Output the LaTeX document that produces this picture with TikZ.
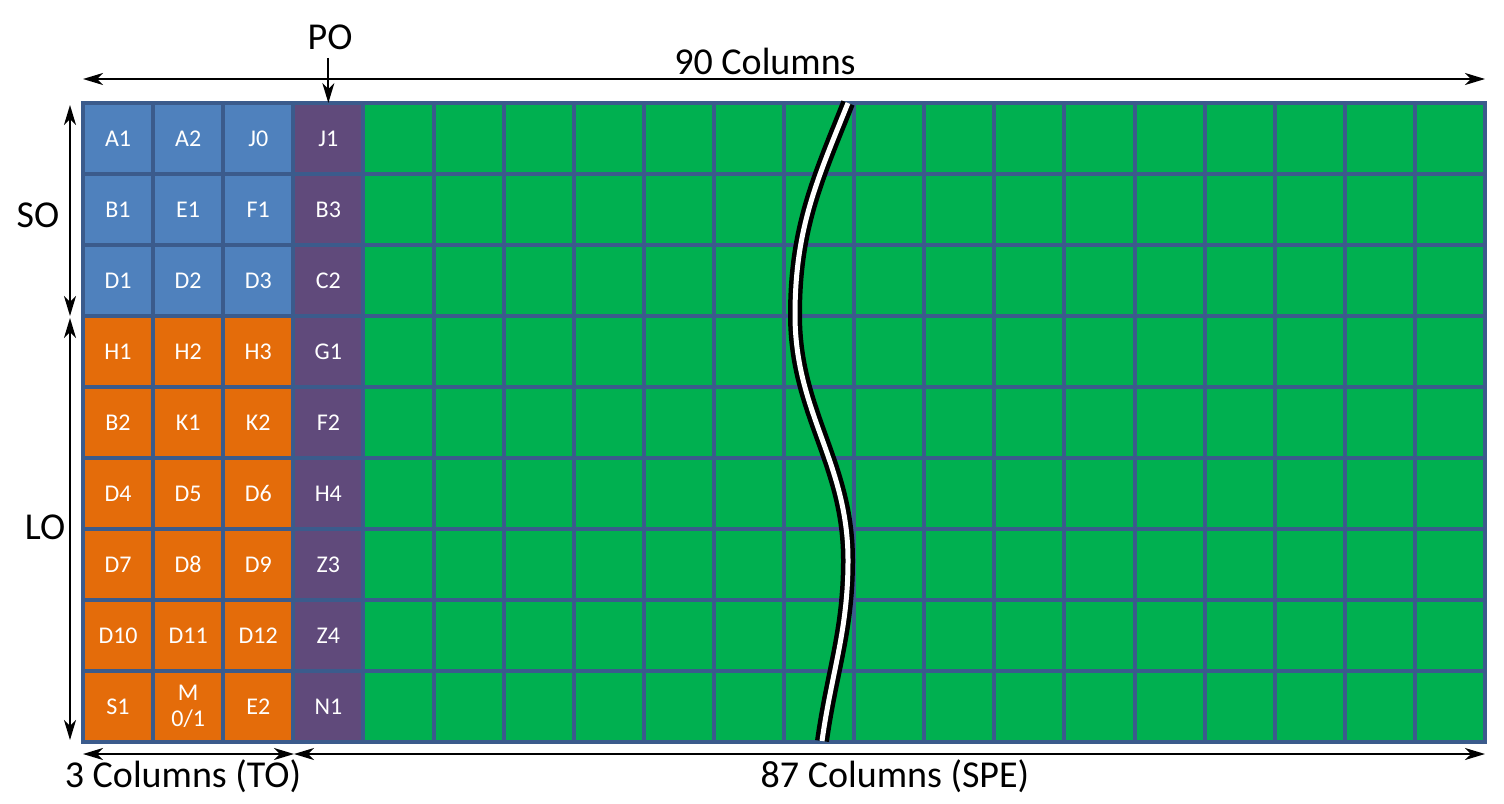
\documentclass[tikz,border=0pt]{standalone}
\usepackage{fontspec}
\setmainfont{Carlito}
\usetikzlibrary{arrows.meta}

\definecolor{toblue}{HTML}{4F81BD}
\definecolor{toorange}{HTML}{E46C0A}
\definecolor{popurple}{HTML}{604A7B}
\definecolor{spegreen}{HTML}{00B050}
\definecolor{gridline}{HTML}{3B5B8C}

\tikzset{
  cell/.style={draw=gridline, line width=2pt, minimum width=35.05pt, minimum height=35.5pt,
               inner sep=0pt, outer sep=0pt, text=white, align=center,
               font=\fontsize{12}{13}\selectfont},
  span/.style={{Stealth[length=10pt,width=6pt,inset=3pt]}-{Stealth[length=10pt,width=6pt,inset=3pt]},
               line width=1pt},
  down/.style={-{Stealth[length=10pt,width=6pt,inset=3pt]}, line width=1pt},
  lbl/.style={font=\fontsize{19}{21}\selectfont, inner sep=0pt}
}

\begin{document}
\begin{tikzpicture}[x=0.5pt, y=-0.5pt]
\useasboundingbox (0,0) rectangle (1504,803); % page size of the reference
% grid of cells
\foreach \r in {1,...,9} {
  \foreach \c in {1,...,20} {
    \ifnum\c>4
      \def\cellcol{spegreen}
    \else\ifnum\c=4
      \def\cellcol{popurple}
    \else\ifnum\r<4
      \def\cellcol{toblue}
    \else
      \def\cellcol{toorange}
    \fi\fi\fi
    \node[cell, fill=\cellcol] (c\r-\c) at ({83+(\c-0.5)*70.1}, {103+(\r-0.5)*71}) {};
  }
}
% labels of the first four columns
\foreach \r/\a/\b/\c/\d in {1/A1/A2/J0/J1, 2/B1/E1/F1/B3, 3/D1/D2/D3/C2,
                            4/H1/H2/H3/G1, 5/B2/K1/K2/F2, 6/D4/D5/D6/H4,
                            7/D7/D8/D9/Z3, 8/D10/D11/D12/Z4, 9/S1/{M\\0/1}/E2/N1} {
  \node[cell, draw=none] (t\r-1) at (c\r-1) {\a};
  \node[cell, draw=none] (t\r-2) at (c\r-2) {\b};
  \node[cell, draw=none] (t\r-3) at (c\r-3) {\c};
  \node[cell, draw=none] (t\r-4) at (c\r-4) {\d};
}
% break in the columns
\draw[line width=7pt] (848,103) to[out=-112,in=90] (795,315)
                                to[out=-90,in=90] (848,560)
                                to[out=-90,in=82] (822,741);
\draw[line width=2.5pt, white] (848,103) to[out=-112,in=90] (795,315)
                                       to[out=-90,in=90] (848,560)
                                       to[out=-90,in=82] (822,741);
% dimension arrows
\coordinate (topL) at (83,79);
\coordinate (topR) at (1485,79);
\coordinate (botL) at (83,754);
\coordinate (botM) at (294,754);
\coordinate (botR) at (1485,754);
\coordinate (soT) at (70,105);
\coordinate (soB) at (70,316);
\coordinate (loT) at (70,318);
\coordinate (loB) at (70,740);
\draw[span] (topL) -- (topR);
\draw[span] (botL) -- (botM);
\draw[span] (botM) -- (botR);
\draw[span] (soT) -- (soB);
\draw[span] (loT) -- (loB);
\node[lbl] (cols90) at (765,61) {90 Columns};
\node[lbl] (po) at (330,37) {PO};
\coordinate (poS) at ([yshift=-4pt]c1-4.north |- po.south);
\draw[down] (poS) -- (c1-4.north);
\node[lbl] (so) at (38,215) {SO};
\node[lbl] (lo) at (45,527) {LO};
\node[lbl] (cols3) at (183,776) {3 Columns (TO)};
\node[lbl] (cols87) at (895,776) {87 Columns (SPE)};
\end{tikzpicture}
\end{document}
